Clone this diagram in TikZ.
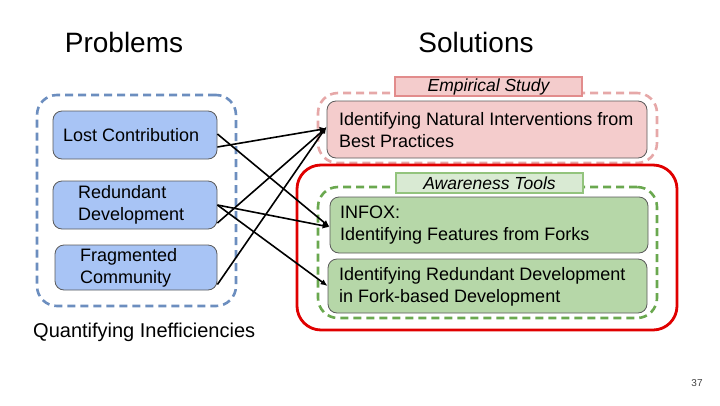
\documentclass[tikz,border=0pt]{standalone}
\usepackage{fontspec}
\setmainfont{Liberation Sans}
\usetikzlibrary{arrows.meta}
\definecolor{bluefill}{RGB}{168,196,245}
\definecolor{blueline}{RGB}{108,142,191}
\definecolor{pinkfill}{RGB}{244,204,204}
\definecolor{pinkline}{RGB}{230,168,168}
\definecolor{pinklab}{RGB}{226,140,140}
\definecolor{greenfill}{RGB}{182,215,168}
\definecolor{greenline}{RGB}{106,168,79}
\definecolor{greenlabfill}{RGB}{217,234,211}
\definecolor{greenlab}{RGB}{147,196,125}
\definecolor{redline}{RGB}{224,0,0}
\definecolor{boxline}{RGB}{90,90,90}
\tikzset{
  container/.style={draw, line width=2.6pt, dash pattern=on 8pt off 5pt, rounded corners=20pt, inner sep=0pt},
  box/.style={draw=boxline, line width=0.8pt, rounded corners=9pt, inner sep=0pt},
  lab/.style={draw, line width=1.8pt, inner sep=0pt, font=\fontsize{17.5}{20}\selectfont\itshape},
  txt/.style={anchor=west, inner sep=0pt, align=left, font=\fontsize{18}{22}\selectfont},
  head/.style={inner sep=0pt, font=\fontsize{28}{32}\selectfont},
  arr/.style={line width=1.6pt, -{Latex[length=7pt,width=6pt]}}
}
\begin{document}
\begin{tikzpicture}[x=1pt,y=-1pt]
\useasboundingbox (0,0) rectangle (720,405);
% headers
\node[head] (problems) at (124,42) {Problems};
\node[head] (solutions) at (476,42) {Solutions};
% left container
\node[container, draw=blueline, minimum width=199pt, minimum height=211pt] (bluec) at (136.5,200.5) {};
\node[box, fill=bluefill, minimum width=164pt, minimum height=48pt] (lost) at (135,135) {};
\node[txt] (lostT) at (63,135.5) {Lost Contribution};
\node[box, fill=bluefill, minimum width=164pt, minimum height=48pt] (redun) at (135,205) {};
\node[txt] (redunT) at (78,204.5) {Redundant\\Development};
\node[box, fill=bluefill, minimum width=162pt, minimum height=45pt] (frag) at (136,267.5) {};
\node[txt] (fragT) at (80,267.5) {Fragmented\\Community};
\node[anchor=west, inner sep=0pt, font=\fontsize{20}{24}\selectfont] (quant) at (33,332) {Quantifying Inefficiencies};
% right side
\node[container, draw=pinkline, minimum width=339pt, minimum height=70pt] (pinkc) at (487.5,128) {};
\node[box, fill=pinkfill, minimum width=320pt, minimum height=57pt] (nat) at (487,129.5) {};
\node[txt] (natT) at (339,130.5) {Identifying Natural Interventions from\\Best Practices};
\node[lab, draw=pinklab, fill=pinkfill, minimum width=187pt, minimum height=19pt] (emp) at (488.5,86.5) {Empirical Study};
\node[draw=redline, line width=2.8pt, rounded corners=24pt, inner sep=0pt, minimum width=380pt, minimum height=165pt] (redc) at (487,247.5) {};
\node[container, draw=greenline, minimum width=339pt, minimum height=131pt] (greenc) at (487.5,252.5) {};
\node[box, fill=greenfill, minimum width=318pt, minimum height=56pt] (infox) at (489,225) {};
\node[txt] (infoxT) at (340,225.5) {INFOX:\\Identifying Features from Forks};
\node[box, fill=greenfill, minimum width=319pt, minimum height=54pt] (rfd) at (487.5,286) {};
\node[txt] (rfdT) at (339,286.5) {Identifying Redundant Development\\in Fork-based Development};
\node[lab, draw=greenlab, fill=greenlabfill, minimum width=187pt, minimum height=20pt] (aware) at (489.5,183) {Awareness Tools};
% page number
\node[inner sep=0pt, font=\fontsize{10}{12}\selectfont, text=black!75] (page) at (697,383) {37};
% arrows
\draw[arr] ([yshift=-12pt]lost.east) -- ([yshift=1pt]nat.west);
\draw[arr] ([yshift=1pt]lost.east) -- ([yshift=-2pt]infox.west);
\draw[arr] ([yshift=-18pt]redun.east) -- ([yshift=2pt]nat.west);
\draw[arr] (redun.east) -- ([yshift=-2pt]infox.west);
\draw[arr] (redun.east) -- (rfd.west);
\draw[arr] ([yshift=-17pt]frag.east) -- ([yshift=3pt]nat.west);
\end{tikzpicture}
\end{document}
